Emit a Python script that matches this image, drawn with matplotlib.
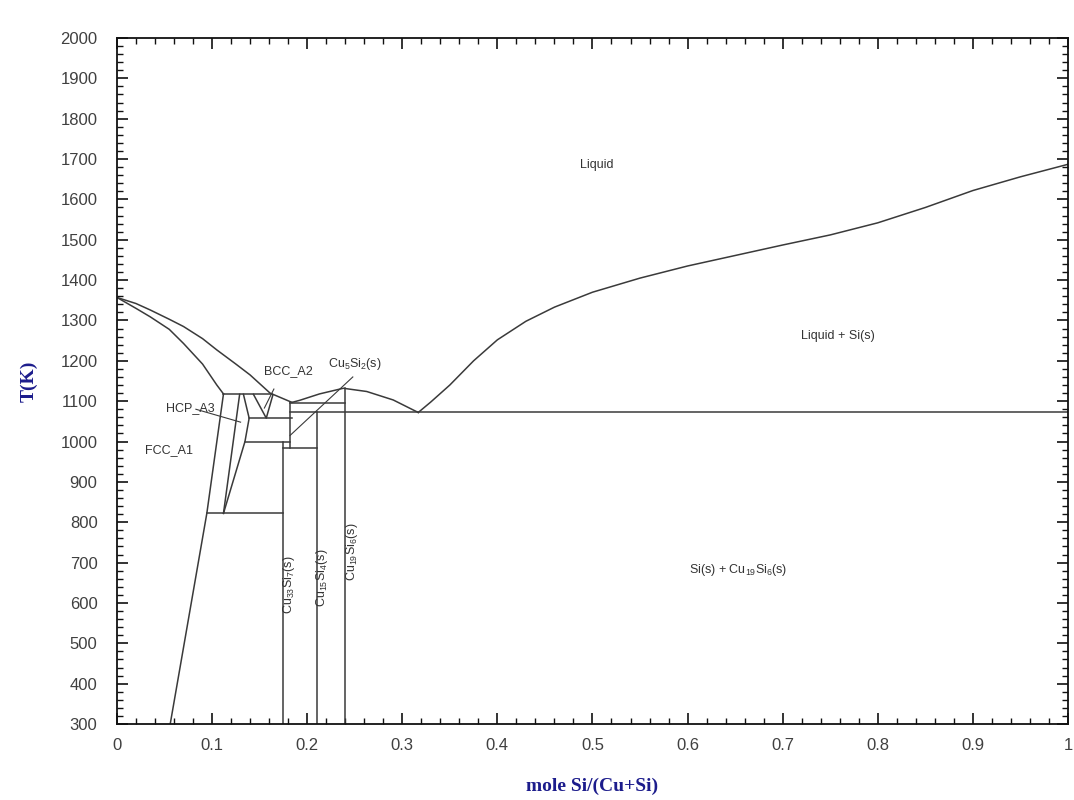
import matplotlib
matplotlib.use("Agg")
import matplotlib.pyplot as plt
from matplotlib.ticker import MultipleLocator, FuncFormatter

plt.rcParams['font.family'] = ['Liberation Sans', 'DejaVu Sans']
plt.rcParams['mathtext.default'] = 'regular'

# phase boundaries: x = mole Si/(Cu+Si), T in K
liq_cu_x = [0.0, 0.02, 0.035, 0.055, 0.07, 0.09, 0.105, 0.125, 0.14, 0.161, 0.184]
liq_cu_T = [1357, 1342, 1326, 1303, 1285, 1255, 1227, 1192, 1165, 1120, 1097]

sol_cu_x = [0.0, 0.02, 0.035, 0.055, 0.07, 0.09, 0.105, 0.112]
sol_cu_T = [1357, 1330, 1309, 1278, 1243, 1192, 1140, 1118]

fcc_solvus_x = [0.112, 0.0945, 0.056]
fcc_solvus_T = [1118, 822, 300]

hcp_left_x = [0.129, 0.112]
hcp_left_T = [1117, 822]

hcp_right_x = [0.133, 0.139, 0.1346, 0.112]
hcp_right_T = [1117, 1058, 1000, 822]

bcc_x = [0.1435, 0.157, 0.164]
bcc_T = [1117, 1058, 1116]

hump_x = [0.184, 0.192, 0.213, 0.238, 0.2626, 0.2905, 0.3168]
hump_T = [1097, 1102, 1118, 1132, 1124, 1103, 1072]

liq_si_x = [0.3168, 0.33, 0.35, 0.375, 0.4, 0.43, 0.46, 0.5, 0.55, 0.6, 0.65,
            0.7, 0.75, 0.8, 0.85, 0.9, 0.95, 1.0]
liq_si_T = [1072, 1098, 1140, 1200, 1252, 1298, 1333, 1370, 1405, 1435, 1461,
            1487, 1512, 1542, 1580, 1622, 1656, 1687]

# horizontal invariants: (x_start, x_end, T)
horiz = [
    (0.112, 0.163, 1118),
    (0.139, 0.184, 1058),
    (0.1346, 0.182, 1000),
    (0.175, 0.21, 983),
    (0.0945, 0.175, 822),
    (0.182, 0.24, 1095),
    (0.182, 1.0, 1072),
]

# vertical compound lines: (x, T_low, T_high)
vert = [
    (0.175, 300, 1000),
    (0.182, 983, 1097),
    (0.21, 300, 1072),
    (0.24, 300, 1132),
]

# leader lines for labels: (x_label_end, T_label_end, x_point, T_point)
leaders = [
    (0.165, 1130, 0.155, 1083),
    (0.083, 1080, 0.13, 1048),
    (0.248, 1160, 0.182, 1015),
]

line_col = '#3a3a3a'
text_col = '#333333'

fig = plt.figure(figsize=(10.74, 8.0), dpi=100)
ax = fig.add_axes([0.1089, 0.095, 0.8855, 0.8575])

for xs, ts in [(liq_cu_x, liq_cu_T), (sol_cu_x, sol_cu_T), (fcc_solvus_x, fcc_solvus_T),
               (hcp_left_x, hcp_left_T), (hcp_right_x, hcp_right_T), (bcc_x, bcc_T),
               (hump_x, hump_T), (liq_si_x, liq_si_T)]:
    ax.plot(xs, ts, color=line_col, lw=1.1)

for x0, x1, t in horiz:
    ax.plot([x0, x1], [t, t], color=line_col, lw=1.1)

for x, t0, t1 in vert:
    ax.plot([x, x], [t0, t1], color=line_col, lw=1.1)

for xl, tl, xp, tp in leaders:
    ax.plot([xl, xp], [tl, tp], color=line_col, lw=0.8)

# region labels
fs = 9
ax.text(0.505, 1685, 'Liquid', fontsize=fs, color=text_col, ha='center', va='center')
ax.text(0.758, 1262, 'Liquid + Si(s)', fontsize=fs, color=text_col, ha='center', va='center')
ax.text(0.653, 682, 'Si(s) + Cu$_{19}$Si$_6$(s)', fontsize=fs, color=text_col, ha='center', va='center')
ax.text(0.055, 980, 'FCC_A1', fontsize=fs, color=text_col, ha='center', va='center')
ax.text(0.077, 1082, 'HCP_A3', fontsize=fs, color=text_col, ha='center', va='center')
ax.text(0.180, 1175, 'BCC_A2', fontsize=fs, color=text_col, ha='center', va='center')
ax.text(0.250, 1192, 'Cu$_5$Si$_2$(s)', fontsize=fs, color=text_col, ha='center', va='center')
ax.text(0.1814, 644, 'Cu$_{33}$Si$_7$(s)', fontsize=fs, color=text_col, ha='center', va='center', rotation=90)
ax.text(0.2156, 662, 'Cu$_{15}$Si$_4$(s)', fontsize=fs, color=text_col, ha='center', va='center', rotation=90)
ax.text(0.247, 726, 'Cu$_{19}$Si$_6$(s)', fontsize=fs, color=text_col, ha='center', va='center', rotation=90)

ax.set_xlim(0, 1)
ax.set_ylim(300, 2000)
ax.xaxis.set_major_locator(MultipleLocator(0.1))
ax.xaxis.set_minor_locator(MultipleLocator(0.02))
ax.yaxis.set_major_locator(MultipleLocator(100))
ax.yaxis.set_minor_locator(MultipleLocator(20))
ax.xaxis.set_major_formatter(FuncFormatter(lambda v, p: '%g' % round(v, 2)))
ax.tick_params(which='both', direction='in', top=True, right=True, colors='#111111',
               labelcolor='#404040', labelsize=12)
ax.tick_params(which='major', length=8, width=1.2, pad=10)
ax.tick_params(which='minor', length=4, width=1.0)
ax.tick_params(axis='y', which='major', pad=14)
for sp in ax.spines.values():
    sp.set_linewidth(1.3)
    sp.set_color('#111111')

ax.set_xlabel('mole Si/(Cu+Si)', family=['Liberation Serif', 'DejaVu Serif'], fontweight='bold',
              fontsize=14, color='#1c1c8c', labelpad=18)
ax.set_ylabel('T(K)', family=['Liberation Serif', 'DejaVu Serif'], fontweight='bold',
              fontsize=14, color='#1c1c8c', labelpad=16)

fig.savefig('out.png', dpi=100)
